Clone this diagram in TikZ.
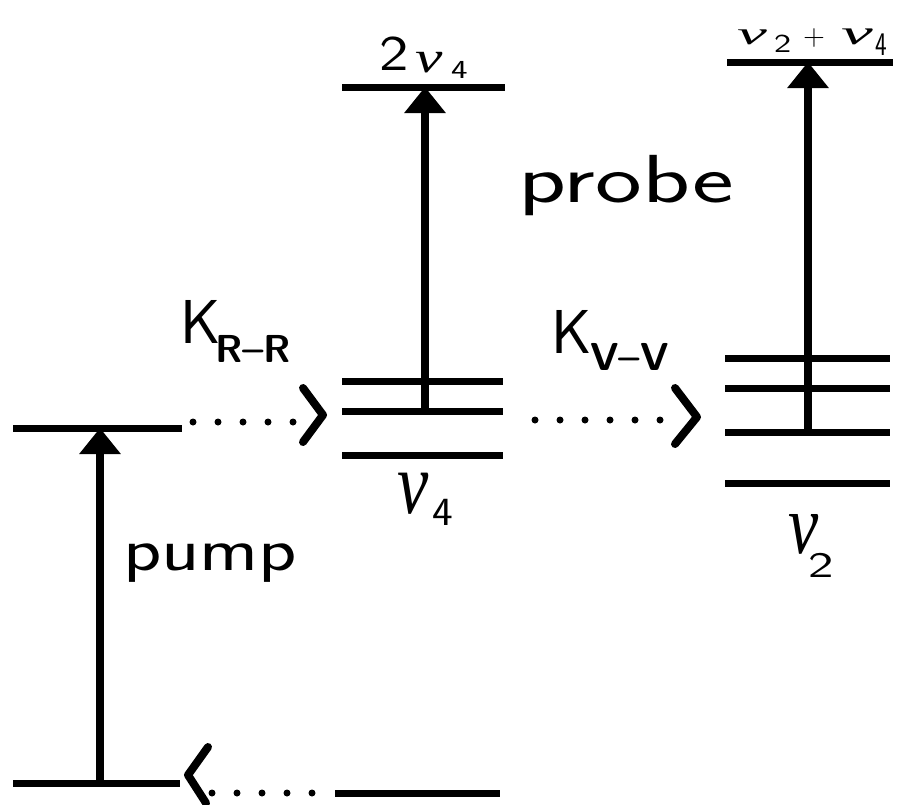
\documentclass[tikz,border=0pt]{standalone}
\usepackage{graphicx}
\usepackage{fontspec}
\newfontfamily\nufont{Liberation Serif}
% \nuglyph[xscale]{size}
\newcommand{\nuglyph}[2][1]{\scalebox{#1}[1]{\fontsize{#2}{#2}\selectfont\nufont\itshape ν}}
% \sfglyph[xscale]{size}{text}
\newcommand{\sfglyph}[3][1]{\scalebox{#1}[1]{\fontsize{#2}{#2}\selectfont\sffamily #3}}
% \gl{dx}{dy}{content}: place content at offset from label origin
\newcommand{\gl}[3]{\rlap{\hspace*{#1}\raisebox{#2}{#3}}}
\usetikzlibrary{arrows.meta,calc}
\begin{document}
\begin{tikzpicture}[x=1pt,y=-1pt,
  level/.style={line width=7pt},
  trans/.style={line width=8pt,-{Triangle[width=40pt,length=26pt]}},
  dotrow/.style={line width=7pt,line cap=round,dash pattern=on 0pt off 25pt},
  chev/.style={line width=8pt,line cap=round,line join=round},
  lbl/.style={inner sep=0pt,outer sep=0pt,anchor=base west},
]
\fill[white] (0,0) rectangle (899,804);
\useasboundingbox (0,0) rectangle (899,804);

% ---- left: ground and pumped level
\coordinate (gL) at (13,783);  \coordinate (gR) at (180,783);
\coordinate (pL) at (13,428);  \coordinate (pR) at (182,428);
\draw[level] (gL) -- (gR);
\draw[level] (pL) -- (pR);
\coordinate (pumpB) at (100,783); \coordinate (pumpT) at (100,428);
\draw[trans] (pumpB) -- (pumpT);

% ---- nu4 stack
\coordinate (a1L) at (342,381); \coordinate (a1R) at (503,381);
\coordinate (a2L) at (342,411); \coordinate (a2R) at (503,411);
\coordinate (a3L) at (342,455); \coordinate (a3R) at (503,455);
\coordinate (atL) at (342,87);  \coordinate (atR) at (505,87);
\foreach \n in {a1,a2,a3,at} \draw[level] (\n L) -- (\n R);
\coordinate (probeB) at (425,411); \coordinate (probeT) at (425,87);
\draw[trans] (probeB) -- (probeT);

% ---- nu2 stack
\coordinate (b1L) at (725,358); \coordinate (b1R) at (890,358);
\coordinate (b2L) at (725,388); \coordinate (b2R) at (890,388);
\coordinate (b3L) at (725,432); \coordinate (b3R) at (890,432);
\coordinate (b4L) at (725,483); \coordinate (b4R) at (890,483);
\coordinate (btL) at (727,62);  \coordinate (btR) at (893,62);
\foreach \n in {b1,b2,b3,b4,bt} \draw[level] (\n L) -- (\n R);
\coordinate (probe2B) at (808,432); \coordinate (probe2T) at (808,62);
\draw[trans] (probe2B) -- (probe2T);

% ---- bottom right level
\coordinate (cL) at (335,793); \coordinate (cR) at (500,793);
\draw[level] (cL) -- (cR);

% ---- dotted transfer arrows
\coordinate (d1s) at (193,422); \coordinate (d1e) at (294,422);
\draw[dotrow] (d1s) -- (d1e);
\coordinate (c1) at (323,415);
\draw[chev] ($(c1)+(-20,-27)$) -- (c1) -- ($(c1)+(-20,27)$);

\coordinate (d2s) at (535,420); \coordinate (d2e) at (663,420);
\draw[dotrow] (d2s) -- (d2e);
\coordinate (c2) at (697,417);
\draw[chev] ($(c2)+(-22,-29)$) -- (c2) -- ($(c2)+(-22,27)$);

\coordinate (d3s) at (212,793); \coordinate (d3e) at (313,793);
\draw[dotrow] (d3s) -- (d3e);
\coordinate (c3) at (188,775);
\draw[chev] ($(c3)+(20,-28)$) -- (c3) -- ($(c3)+(18,28)$);

% ---- labels
\node[lbl] (kR) at (180,343) {\fontsize{62}{62}\selectfont\sffamily K};
\node[lbl] (kRs) at (215,362) {\fontsize{39}{39}\selectfont\sffamily\bfseries R--R};
\node[lbl] (kV) at (551,353) {\fontsize{62}{62}\selectfont\sffamily K};
\node[lbl] (kVs) at (590,370) {\fontsize{39}{39}\selectfont\sffamily\bfseries V--V};

\node[lbl] (probe) at (518,202) {\sfglyph[1.46]{68}{probe}};
\node[lbl] (pump) at (123,570) {\sfglyph[1.3]{61}{pump}};

\node[lbl] (nu4) at (397,513) {\makebox[58pt][l]{%
  \gl{0pt}{0pt}{\nuglyph[0.8]{88}}%
  \gl{35pt}{-12pt}{\sfglyph[1.1]{40}{4}}}};
\node[lbl] (nu2) at (768,553) {\makebox[67pt][l]{%
  \gl{20pt}{0pt}{\nuglyph[0.8]{85}}%
  \gl{40pt}{-24pt}{\sfglyph[1.5]{36}{2}}}};

\node[lbl] (twonu4) at (379,70) {\makebox[90pt][l]{%
  \gl{0pt}{0pt}{\sfglyph[1.25]{50}{2}}%
  \gl{36pt}{-2pt}{\nuglyph[1.4]{44}}%
  \gl{72pt}{-8pt}{\sfglyph[1.35]{26}{4}}}};
\node[lbl] (nu2nu4) at (737,44) {\makebox[156pt][l]{%
  \gl{0pt}{0pt}{\nuglyph[2.1]{32}}%
  \gl{37pt}{-8pt}{\sfglyph[1.4]{26}{2}}%
  \gl{66pt}{-1pt}{\sfglyph{30}{+}}%
  \gl{104pt}{0pt}{\nuglyph[2.1]{34}}%
  \gl{138pt}{-11pt}{\sfglyph[0.75]{33}{4}}}};
\end{tikzpicture}
\end{document}
